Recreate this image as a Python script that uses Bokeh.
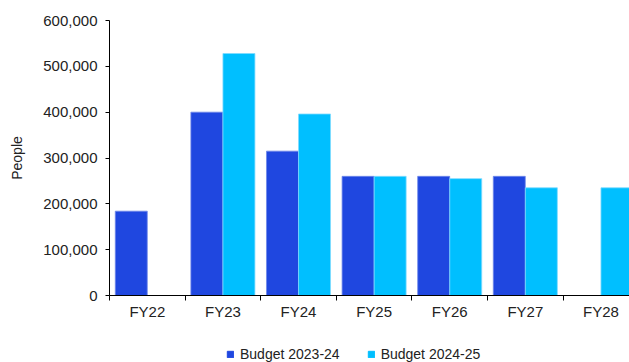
import numpy as np
from bokeh.plotting import figure
from bokeh.layouts import column
from bokeh.models import (ColumnDataSource, Range1d, FixedTicker, NumeralTickFormatter,
                          Legend, LegendItem)
from bokeh.embed import file_html
from bokeh.resources import INLINE

categories = ["FY22", "FY23", "FY24", "FY25", "FY26", "FY27", "FY28"]
budget_2023_24 = [184000, 400000, 315000, 260000, 260000, 260000, None]
budget_2024_25 = [None, 528000, 396000, 260000, 255000, 235000, 235000]
series_names = ["Budget 2023-24", "Budget 2024-25"]
y_ticks = [0, 100000, 200000, 300000, 400000, 500000, 600000]

DARK = "#1F47E0"
LIGHT = "#00BFFF"
FONT = "Liberation Sans"
TXT = "#222222"

bar_w = 0.423
off = 0.212


def make_source(values, shift):
    xs, tops = [], []
    for i, v in enumerate(values):
        if v is not None:
            xs.append(i + 0.5 + shift)
            tops.append(v)
    return ColumnDataSource(dict(x=xs, top=tops))


p = figure(width=629, height=330, output_backend="svg", toolbar_location=None,
           x_range=Range1d(0, 6.878), y_range=Range1d(0, 600000),
           min_border_left=109, min_border_right=0, min_border_top=20,
           min_border_bottom=35)

p.vbar(x="x", top="top", width=bar_w, source=make_source(budget_2023_24, -off),
       fill_color=DARK, line_color="#6F88EA", line_width=0.8)
p.vbar(x="x", top="top", width=bar_w, source=make_source(budget_2024_25, off),
       fill_color=LIGHT, line_color="#7FDBFF", line_width=0.8)

p.outline_line_color = None
p.xgrid.visible = False
p.ygrid.visible = False

# y axis
p.yaxis.ticker = FixedTicker(ticks=y_ticks, minor_ticks=[])
p.yaxis.formatter = NumeralTickFormatter(format="0,0")
p.yaxis.axis_line_color = "black"
p.yaxis.major_tick_line_color = "black"
p.yaxis.major_tick_out = 4
p.yaxis.major_tick_in = 0
p.yaxis.major_label_standoff = 8
p.yaxis.major_label_text_font = FONT
p.yaxis.major_label_text_font_size = "15px"
p.yaxis.major_label_text_color = TXT
p.yaxis.axis_label = "People"
p.yaxis.axis_label_text_font = FONT
p.yaxis.axis_label_text_font_size = "14px"
p.yaxis.axis_label_text_font_style = "normal"
p.yaxis.axis_label_text_color = TXT
p.yaxis.axis_label_standoff = 15

# x axis
centers = [i + 0.5 for i in range(len(categories))]
p.xaxis.ticker = FixedTicker(ticks=centers, minor_ticks=list(range(len(categories) + 1)))
p.xaxis.major_label_overrides = {c: lab for c, lab in zip(centers, categories)}
p.xaxis.axis_line_color = "black"
p.xaxis.major_tick_out = 0
p.xaxis.major_tick_in = 0
p.xaxis.minor_tick_out = 5
p.xaxis.minor_tick_in = 0
p.xaxis.minor_tick_line_color = "black"
p.xaxis.major_label_standoff = 2
p.xaxis.major_label_text_font = FONT
p.xaxis.major_label_text_font_size = "15px"
p.xaxis.major_label_text_color = TXT

# legend strip
lf = figure(width=629, height=32, output_backend="svg", toolbar_location=None,
            x_range=Range1d(0, 1), y_range=Range1d(0, 1),
            min_border=0, x_axis_type=None, y_axis_type=None)
lf.outline_line_color = None
lf.xgrid.visible = False
lf.ygrid.visible = False
dummy = dict(x=[-5], top=[-5], bottom=[-6])
l1 = lf.vbar(x="x", top="top", bottom="bottom", width=0.1,
             source=ColumnDataSource(dummy), fill_color=DARK, line_color=DARK)
l2 = lf.vbar(x="x", top="top", bottom="bottom", width=0.1,
             source=ColumnDataSource(dummy), fill_color=LIGHT, line_color=LIGHT)
legend = Legend(items=[LegendItem(label=series_names[0], renderers=[l1]),
                       LegendItem(label=series_names[1], renderers=[l2])],
                location=(117, 0), orientation="horizontal",
                glyph_width=8, glyph_height=8, label_standoff=6, spacing=27,
                padding=0, margin=0, border_line_color=None,
                background_fill_alpha=0,
                label_text_font=FONT, label_text_font_size="14px",
                label_text_color=TXT)
lf.add_layout(legend, "center")

layout = column(p, lf, spacing=0)
open("out.html", "w").write(file_html(layout, INLINE))
